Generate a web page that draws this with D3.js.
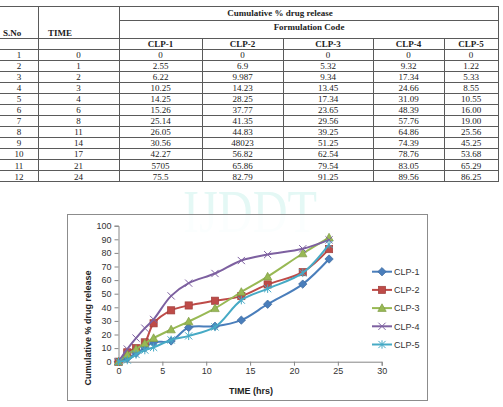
<!DOCTYPE html>
<html lang="en">
<head>
<meta charset="UTF-8">
<title>Cumulative % drug release</title>
<script src="https://d3js.org/d3.v7.min.js"></script>
<style>
body { margin: 0; background: #fff; }
svg text { user-select: none; }
.tbl { font-family: "Liberation Serif", "DejaVu Serif", serif; font-size: 9px; fill: #222; }
.tbl.b { font-weight: bold; }
.ch { font-family: "Liberation Sans", "Open Sans", sans-serif; font-size: 9px; fill: #333; }
</style>
</head>
<body>
<div id="container"></div>
<script>
const sno = [1, 2, 3, 4, 5, 6, 7, 8, 9, 10, 11, 12]
const times = [0, 1, 2, 3, 4, 6, 8, 11, 14, 17, 21, 24]
const series = ["CLP-1", "CLP-2", "CLP-3", "CLP-4", "CLP-5"]
const clp1 = [0, 2.55, 6.22, 10.25, 14.25, 15.26, 25.14, 26.05, 30.56, 42.27, 57.05, 75.5]
const clp2 = [0, 6.9, 9.987, 14.23, 28.25, 37.77, 41.35, 44.83, 48.23, 56.82, 65.86, 82.79]
const clp3 = [0, 5.32, 9.34, 13.45, 17.34, 23.65, 29.56, 39.25, 51.25, 62.54, 79.54, 91.25]
const clp4 = [0, 9.32, 17.34, 24.66, 31.09, 48.39, 57.76, 64.86, 74.39, 78.76, 83.05, 89.56]
const clp5 = [0, 1.22, 5.33, 8.55, 10.55, 16.00, 19.00, 25.56, 45.25, 53.68, 65.29, 86.25]
const allValues = [clp1, clp2, clp3, clp4, clp5]
// cells printed differently in the source table (as typed there)
const printedAs = { "0-10": "5705", "1-8": "48023" }
const xTicks = [0, 5, 10, 15, 20, 25, 30]
const yTicks = [0, 10, 20, 30, 40, 50, 60, 70, 80, 90, 100]

const colors = ["#4A7EBB", "#BE4B48", "#98B954", "#7D60A0", "#46AAC5"]
const markers = ["diamond", "square", "triangle", "x", "star"]

const W = 503, H = 407
const svg = d3.select('#container').append('svg')
    .attr('width', W).attr('height', H)
    .attr('viewBox', [0, 0, W, H])

// faint watermark, behind everything
svg.append('text')
    .attr('x', 183).attr('y', 232)
    .attr('textLength', 134).attr('lengthAdjust', 'spacingAndGlyphs')
    .style('font-family', '"Liberation Serif", serif')
    .style('font-size', '62px')
    .style('fill', '#e4f8f5')
    .text('IJDDT')

// ---------- table ----------
const t = svg.append('g')
const colX = [0, 38, 119, 202, 283, 373, 444, 498]
const tTop = 6, r1 = 20, r2 = 38, r3 = 49
const rowH = 11.08
const tBottom = r3 + rowH * times.length

const line = (x1, y1, x2, y2) => t.append('line')
    .attr('x1', x1).attr('y1', y1).attr('x2', x2).attr('y2', y2)
    .attr('stroke', '#5a5a5a').attr('stroke-width', 1)
    .attr('shape-rendering', 'crispEdges')

line(0, tTop, colX[7], tTop)
line(colX[2], r1, colX[7], r1)
line(0, r2, colX[7], r2)
line(0, r3, colX[7], r3)
times.forEach((d, i) => line(0, r3 + rowH * (i + 1), colX[7], r3 + rowH * (i + 1)))
line(colX[1], tTop, colX[1], tBottom)
line(colX[2], tTop, colX[2], tBottom)
line(colX[7], tTop, colX[7], tBottom)
for (let c = 3; c < 7; c++) line(colX[c], r2, colX[c], tBottom)

t.append('text').attr('class', 'tbl b').attr('x', 3).attr('y', 36).text('S.No')
t.append('text').attr('class', 'tbl b').attr('x', 48).attr('y', 36).text('TIME')
t.append('text').attr('class', 'tbl b').attr('x', 280).attr('y', 16)
    .attr('text-anchor', 'middle').text('Cumulative % drug release')
t.append('text').attr('class', 'tbl b').attr('x', 309).attr('y', 30)
    .attr('text-anchor', 'middle').text('Formulation Code')

const mid = c => (colX[c] + colX[c + 1]) / 2
series.forEach((s, k) => {
    t.append('text').attr('class', 'tbl b').attr('x', mid(k + 2)).attr('y', 46.5)
        .attr('text-anchor', 'middle').text(s)
})

const fmt = (k, i, v) => {
    const key = k + '-' + i
    if (printedAs[key]) return printedAs[key]
    if (k === 4 && v !== 0) return v.toFixed(2)
    return String(v)
}

times.forEach((tm, i) => {
    const yy = r3 + rowH * i + rowH / 2 + 3.2
    t.append('text').attr('class', 'tbl').attr('x', mid(0)).attr('y', yy)
        .attr('text-anchor', 'middle').text(sno[i])
    t.append('text').attr('class', 'tbl').attr('x', mid(1)).attr('y', yy)
        .attr('text-anchor', 'middle').text(tm)
    allValues.forEach((vals, k) => {
        t.append('text').attr('class', 'tbl').attr('x', mid(k + 2)).attr('y', yy)
            .attr('text-anchor', 'middle').text(fmt(k, i, vals[i]))
    })
})

// ---------- chart ----------
const frame = { x: 67, y: 214, w: 360, h: 186 }
svg.append('rect')
    .attr('x', frame.x + 0.5).attr('y', frame.y + 0.5)
    .attr('width', frame.w).attr('height', frame.h)
    .attr('fill', '#fff').attr('fill-opacity', 0.85).attr('stroke', '#8c8c8c')

const x = d3.scaleLinear().domain([0, 30]).range([118.5, 381.7])
const y = d3.scaleLinear().domain([0, 100]).range([361.7, 225.7])

const g = svg.append('g')

const yAxis = g.append('g')
    .attr('transform', 'translate(' + x(0) + ',0)')
    .call(d3.axisLeft(y).tickValues(yTicks).tickSize(4).tickPadding(3))
const xAxis = g.append('g')
    .attr('transform', 'translate(0,' + y(0) + ')')
    .call(d3.axisBottom(x).tickValues(xTicks).tickSize(4).tickPadding(2))
;[xAxis, yAxis].forEach(a => {
    a.attr('font-size', null).attr('font-family', null)
    a.selectAll('path, line').attr('stroke', '#868686')
    a.selectAll('text').attr('class', 'ch')
})

g.append('text').attr('class', 'ch')
    .attr('transform', 'translate(91,328) rotate(-90)')
    .attr('text-anchor', 'middle')
    .style('font-weight', 'bold').style('fill', '#222')
    .text('Cumulative % drug release')
g.append('text').attr('class', 'ch')
    .attr('x', 251).attr('y', 394)
    .attr('text-anchor', 'middle')
    .style('font-weight', 'bold').style('fill', '#222')
    .text('TIME (hrs)')

function drawMarker(sel, kind, color, cx, cy) {
    const m = sel.append('g').attr('transform', 'translate(' + cx + ',' + cy + ')')
    if (kind === 'diamond') {
        m.append('path').attr('d', 'M0,-4.2L4.2,0L0,4.2L-4.2,0Z')
            .attr('fill', color).attr('stroke', d3.color(color).darker(0.5))
            .attr('stroke-width', 0.7)
    } else if (kind === 'square') {
        m.append('rect').attr('x', -3.6).attr('y', -3.6).attr('width', 7.2).attr('height', 7.2)
            .attr('fill', color).attr('stroke', d3.color(color).darker(0.5))
            .attr('stroke-width', 0.7)
    } else if (kind === 'triangle') {
        m.append('path').attr('d', 'M0,-4.3L4.2,3.3L-4.2,3.3Z')
            .attr('fill', color).attr('stroke', d3.color(color).darker(0.5))
            .attr('stroke-width', 0.7)
    } else if (kind === 'x') {
        m.append('path').attr('d', 'M-3.6,-3.6L3.6,3.6M-3.6,3.6L3.6,-3.6')
            .attr('fill', 'none').attr('stroke', color).attr('stroke-width', 1)
    } else {
        m.append('path').attr('d', 'M-3.6,-3.6L3.6,3.6M-3.6,3.6L3.6,-3.6M0,-4.2L0,4.2')
            .attr('fill', 'none').attr('stroke', color).attr('stroke-width', 1)
    }
}

const lineGen = d3.line()
    .x((d, i) => x(times[i]))
    .y(d => y(d))
    .curve(d3.curveCatmullRom.alpha(0.5))

allValues.forEach((vals, k) => {
    const sg = g.append('g')
    sg.append('path')
        .attr('d', lineGen(vals))
        .attr('fill', 'none')
        .attr('stroke', colors[k])
        .attr('stroke-width', 2)
    vals.forEach((v, i) => drawMarker(sg, markers[k], colors[k], x(times[i]), y(v)))
})

// legend
const lg = svg.append('g')
series.forEach((s, k) => {
    const ly = 271.7 + 18.2 * k
    lg.append('line').attr('x1', 372).attr('x2', 392).attr('y1', ly).attr('y2', ly)
        .attr('stroke', colors[k]).attr('stroke-width', 2)
    drawMarker(lg, markers[k], colors[k], 382, ly)
    lg.append('text').attr('class', 'ch').attr('x', 394).attr('y', ly + 3.2).text(s)
})
</script>
</body>
</html>
